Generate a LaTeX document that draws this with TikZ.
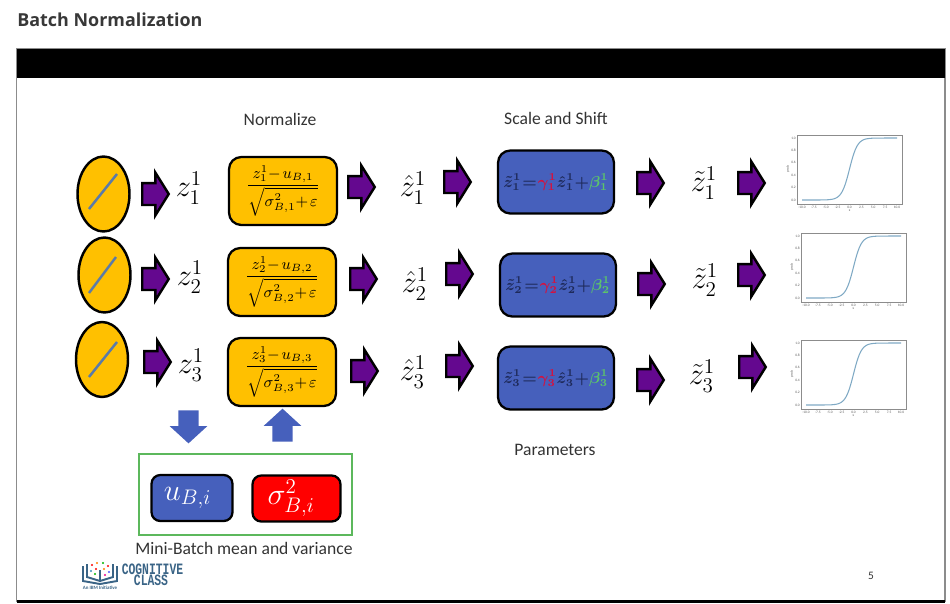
\documentclass[tikz,border=0pt]{standalone}
\usepackage[no-math]{fontspec}
\setmainfont{Carlito}
\newfontfamily\titlefont{Open Sans}
\newfontfamily\logofont{Liberation Mono}
\usepackage{amsmath}
\usetikzlibrary{shapes.geometric, shapes.arrows, calc}
\definecolor{colorBox}{HTML}{FFC000}
\definecolor{colorBlue}{HTML}{4660BC}
\definecolor{colorPurple}{HTML}{64088F}
\definecolor{colorSlash}{HTML}{5B7BA8}
\definecolor{colorGamma}{HTML}{D4123F}
\definecolor{colorBeta}{HTML}{5CC46A}
\definecolor{colorGreen}{HTML}{5CB85C}
\definecolor{colorInk}{HTML}{1E2A5A}
\definecolor{colorCurve}{HTML}{7FA9C4}
\definecolor{colorLogo}{HTML}{3A6486}
\tikzset{
  declare function={squash(\t)=(\t<0 ? exp(-1.2*abs(\t))/(1+exp(-1.2*abs(\t))) : 1/(1+exp(-1.2*abs(\t))));},
  neuron/.style={ellipse, draw=black, line width=1.4pt, fill=colorBox, minimum width=1.04cm, minimum height=1.5cm, inner sep=0pt},
  slash/.style={colorSlash, line width=1.4pt},
  pathArrow/.style={single arrow, anchor=tail, draw=black, line width=1.4pt, fill=colorPurple, minimum height=0.53cm, inner xsep=0pt, inner ysep=0.195cm, single arrow head extend=0.21cm, single arrow tip angle=116, single arrow head indent=0pt},
  statArrow/.style={single arrow, anchor=tail, fill=colorBlue, minimum height=0.66cm, inner xsep=0pt, inner ysep=0.195cm, single arrow head extend=0.175cm, single arrow tip angle=95, single arrow head indent=0pt},
  normBox/.style={rectangle, rounded corners=7pt, draw=black, line width=1.3pt, fill=colorBox, minimum width=2.16cm, minimum height=1.36cm, inner sep=0pt, font=\small},
  scaleBox/.style={rectangle, rounded corners=7pt, draw=black, line width=1.3pt, fill=colorBlue, minimum width=2.32cm, minimum height=1.26cm, inner sep=0pt, font=\small\boldmath},
  statBox/.style={rectangle, rounded corners=5pt, draw=black, line width=1.3pt, minimum height=0.92cm, inner sep=0pt, text=white, font=\LARGE},
  zLabel/.style={font=\LARGE},
  caption/.style={font=\fontsize{10}{12}\selectfont, text=black!80},
  pics/sigmoid/.style={code={
    \draw[black!45, line width=0.5pt] (0,0) rectangle (105,69);
    \draw[colorCurve, line width=0.6pt] plot[domain=-10:10, samples=60, smooth] ({52.5+4.75*\x}, {65-62*squash(\x)});
    \foreach \v/\t in {5/-10.0, 16.9/-7.5, 28.8/-5.0, 40.6/-2.5, 52.5/0.0, 64.4/2.5, 76.2/5.0, 88.1/7.5, 100/10.0}
      \node[font=\fontsize{2}{2}\selectfont, text=black!65, inner sep=0pt] at (\v,72) {\t};
    \foreach \v/\t in {65/0.0, 52.6/0.2, 40.2/0.4, 27.8/0.6, 15.4/0.8, 3/1.0}
      \node[font=\fontsize{2}{2}\selectfont, text=black!65, inner sep=0pt] at (-3.5,\v) {\t};
    \node[font=\fontsize{2}{2}\selectfont, text=black!65, inner sep=0pt] at (52.5,76) {x};
    \node[font=\fontsize{2}{2}\selectfont, text=black!65, inner sep=0pt, rotate=90] at (-9,34) {prob};
  }},
}
\begin{document}
\begin{tikzpicture}[x=0.02cm, y=-0.02cm]
\useasboundingbox (0,0) rectangle (950,603);
% slide frame
\node[font=\titlefont\bfseries\fontsize{10.2}{12}\selectfont, text=black!78, anchor=west, inner sep=0pt] (title) at (17,19.5) {Batch Normalization};
\draw[black!45, line width=0.6pt] (16.5,49) rectangle (945,601);
\fill[black] (17,49) rectangle (945,78);
\fill[black] (17,600) rectangle (945,603);
% column titles
\node[caption] (normTitle) at (280,119) {Normalize};
\node[caption] (scaleTitle) at (556,118) {Scale and Shift};
\node[caption] (paramTitle) at (555,450) {Parameters};
\node[caption] (batchTitle) at (244,548) {Mini-Batch mean and variance};
\node[font=\fontsize{6.5}{8}\selectfont, text=black!80] (pageNum) at (871,576) {5};
% neurons
\node[neuron] (n1) at (103.5,194) {};
\node[neuron] (n2) at (104.5,275) {};
\node[neuron] (n3) at (102,359.5) {};
\draw[slash] (89,209) -- (117,174);
\draw[slash] (89,293) -- (116,257);
\draw[slash] (89,377) -- (117,342);
% arrows after the neurons
\node[pathArrow] (a11) at (141,194) {};
\node[pathArrow] (a12) at (141,279) {};
\node[pathArrow] (a13) at (143,362) {};
\node[zLabel] (z1) at (189,188) {$z_1^1$};
\node[zLabel] (z2) at (190,277) {$z_2^1$};
\node[zLabel] (z3) at (191,365) {$z_3^1$};
% normalize
\node[normBox] (norm1) at (283,191) {$\displaystyle\frac{z_1^1{-}\mkern2mu u_{B,1}}{\sqrt{\sigma_{B,1}^2{+}\mkern2mu\varepsilon}}$};
\node[normBox] (norm2) at (282,282) {$\displaystyle\frac{z_2^1{-}\mkern2mu u_{B,2}}{\sqrt{\sigma_{B,2}^2{+}\mkern2mu\varepsilon}}$};
\node[normBox] (norm3) at (282,372) {$\displaystyle\frac{z_3^1{-}\mkern2mu u_{B,3}}{\sqrt{\sigma_{B,3}^2{+}\mkern2mu\varepsilon}}$};
\node[pathArrow] (a21) at (347,187) {};
\node[pathArrow] (a22) at (349,279) {};
\node[pathArrow] (a23) at (350,371) {};
\node[zLabel] (zh1) at (413,188) {$\hat z_1^1$};
\node[zLabel] (zh2) at (415,284) {$\hat z_2^1$};
\node[zLabel] (zh3) at (413,372) {$\hat z_3^1$};
\node[pathArrow] (a31) at (443,182) {};
\node[pathArrow] (a32) at (445,274) {};
\node[pathArrow] (a33) at (445,366) {};
% scale and shift
\node[scaleBox] (scale1) at (556,182) {$\textcolor{colorInk}{\tilde z_1^1\mkern1mu{=}\mkern1mu}\textcolor{colorGamma}{\gamma_1^1}\textcolor{colorInk}{\hat z_1^1{+}}\textcolor{colorBeta}{\beta_1^1}$};
\node[scaleBox] (scale2) at (558,285) {$\textcolor{colorInk}{\tilde z_2^1\mkern1mu{=}\mkern1mu}\textcolor{colorGamma}{\gamma_2^1}\textcolor{colorInk}{\hat z_2^1{+}}\textcolor{colorBeta}{\beta_2^1}$};
\node[scaleBox] (scale3) at (556,378) {$\textcolor{colorInk}{\tilde z_3^1\mkern1mu{=}\mkern1mu}\textcolor{colorGamma}{\gamma_3^1}\textcolor{colorInk}{\hat z_3^1{+}}\textcolor{colorBeta}{\beta_3^1}$};
\node[pathArrow] (a41) at (636,183) {};
\node[pathArrow] (a42) at (637,284) {};
\node[pathArrow] (a43) at (636,380) {};
\node[zLabel] (zt1) at (704,183) {$\tilde z_1^1$};
\node[zLabel] (zt2) at (705,280) {$\tilde z_2^1$};
\node[zLabel] (zt3) at (702,376) {$\tilde z_3^1$};
\node[pathArrow] (a51) at (737,183) {};
\node[pathArrow] (a52) at (737,275) {};
\node[pathArrow] (a53) at (738,367) {};
% plots
\pic (plot1) at (797,135) {sigmoid};
\pic (plot2) at (801,233) {sigmoid};
\pic (plot3) at (801,340) {sigmoid};
% mini-batch statistics
\node[statArrow, rotate=-90] (down) at (188.5,410) {};
\node[statArrow, rotate=90] (up) at (282.5,442) {};
\draw[colorGreen, line width=1.6pt] (139,454) rectangle (352,535);
\node[statBox, fill=colorBlue, minimum width=1.62cm] (meanBox) at (192,498) {\kern-5pt$u_{B,i}$};
\node[statBox, fill=red, minimum width=1.76cm] (varBox) at (296.5,498.5) {\kern-6pt$\sigma_{B,i}^2$};
% logo
\draw[colorLogo, line width=1.1pt] (83,566) -- (83,581) -- (100,584) -- (117,581) -- (117,566);
\draw[colorLogo, line width=1.1pt] (87,564) -- (87,577) -- (100,581) -- (113,577) -- (113,564);
\draw[colorLogo, line width=0.7pt] (100,570) -- (100,581);
\foreach \px/\py/\dotcolor in {92/565/red, 97/563/orange, 103/563/green!70!black, 108/566/red, 91/571/cyan!70!black, 96/569/red, 104/569/orange, 109/572/blue!70, 95/574/green!70!black, 105/575/magenta}
  \fill[\dotcolor] (\px,\py) circle (1.2);
\node[font=\logofont\bfseries\fontsize{9}{9}\selectfont, text=colorLogo, xscale=0.72, inner sep=0pt] (logoTop) at (152.5,569) {COGNITIVE};
\node[font=\logofont\bfseries\fontsize{9}{9}\selectfont, text=colorLogo, xscale=0.72, inner sep=0pt] (logoBottom) at (151,580) {CLASS};
\node[font=\bfseries\fontsize{2.8}{3}\selectfont, text=colorLogo, inner sep=0pt] (logoSub) at (100,588) {An IBM Initiative};
\end{tikzpicture}
\end{document}
